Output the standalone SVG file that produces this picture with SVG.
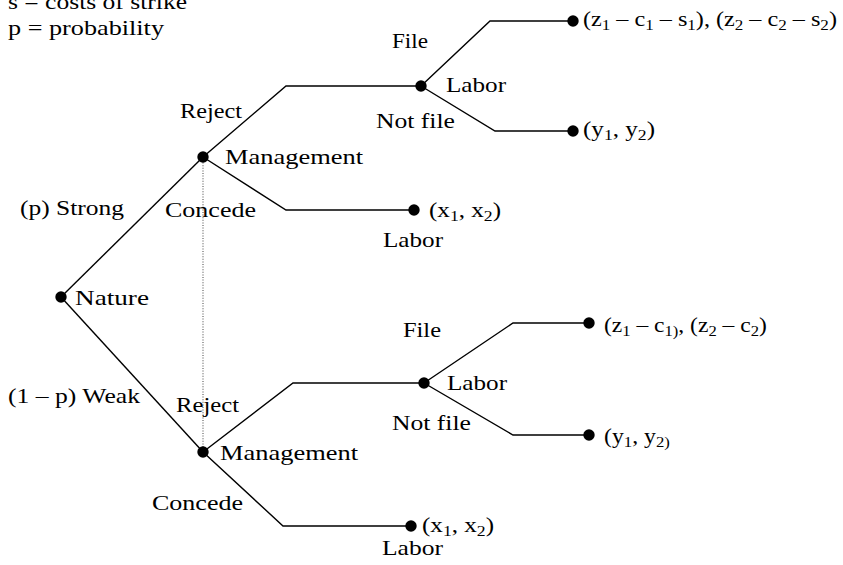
<svg xmlns="http://www.w3.org/2000/svg" width="843" height="565" viewBox="0 0 843 565">
<style>
text{font-family:'Liberation Serif','Times New Roman',serif;font-size:22px;fill:#000}
.sub{font-size:15.5px}
.e{fill:none;stroke:#000;stroke-width:1.4;stroke-linejoin:miter}
.dot{fill:#000}
.info{fill:none;stroke:#555;stroke-width:1.1;stroke-dasharray:1 1.6}
</style>
<rect width="843" height="565" fill="#fff"/>
<g id="legend">
<text x="8" y="9" textLength="179" lengthAdjust="spacingAndGlyphs">s = costs of strike</text>
<text x="8" y="35" textLength="156" lengthAdjust="spacingAndGlyphs">p = probability</text>
</g>
<g id="connectors">
<line class="e" x1="61" y1="297" x2="203" y2="157"/>
<line class="e" x1="61" y1="297" x2="203" y2="452"/>
<polyline class="e" points="203,157 286,86 421,86"/>
<polyline class="e" points="421,86 490,21 573,21"/>
<polyline class="e" points="421,86 495,131 573,131"/>
<polyline class="e" points="203,157 286,210 414,210"/>
<polyline class="e" points="203,452 293,383 424,383"/>
<polyline class="e" points="424,383 513,323 589,323"/>
<polyline class="e" points="424,383 513,435 589,435"/>
<polyline class="e" points="203,452 283,526 411,526"/>
<line class="info" x1="203" y1="160" x2="203" y2="449"/>
<text x="20" y="215" textLength="104" lengthAdjust="spacingAndGlyphs">(p) Strong</text>
<text x="8" y="403" textLength="132" lengthAdjust="spacingAndGlyphs">(1 – p) Weak</text>
<text x="180" y="118" textLength="62" lengthAdjust="spacingAndGlyphs">Reject</text>
<text x="165" y="217" textLength="91" lengthAdjust="spacingAndGlyphs">Concede</text>
<text x="392" y="48" textLength="36" lengthAdjust="spacingAndGlyphs">File</text>
<text x="376" y="128" textLength="79" lengthAdjust="spacingAndGlyphs">Not file</text>
<text x="176" y="412" textLength="63" lengthAdjust="spacingAndGlyphs">Reject</text>
<text x="152" y="510" textLength="91" lengthAdjust="spacingAndGlyphs">Concede</text>
<text x="403" y="337" textLength="38" lengthAdjust="spacingAndGlyphs">File</text>
<text x="392" y="430" textLength="79" lengthAdjust="spacingAndGlyphs">Not file</text>
</g>
<g id="nature">
<circle class="dot" cx="61" cy="297" r="5.7"/>
<text x="75" y="305" textLength="74" lengthAdjust="spacingAndGlyphs">Nature</text>
</g>
<g id="management-strong">
<circle class="dot" cx="203" cy="157" r="5.7"/>
<text x="225" y="164" textLength="138" lengthAdjust="spacingAndGlyphs">Management</text>
</g>
<g id="management-weak">
<circle class="dot" cx="203" cy="452" r="5.7"/>
<text x="220" y="460" textLength="138" lengthAdjust="spacingAndGlyphs">Management</text>
</g>
<g id="labor-strong">
<circle class="dot" cx="421" cy="86" r="5.7"/>
<text x="446" y="92" textLength="60" lengthAdjust="spacingAndGlyphs">Labor</text>
</g>
<g id="labor-weak">
<circle class="dot" cx="424" cy="383" r="5.7"/>
<text x="447" y="390" textLength="60" lengthAdjust="spacingAndGlyphs">Labor</text>
</g>
<g id="end-strong-file">
<circle class="dot" cx="573" cy="21" r="5.7"/>
<text transform="translate(583,26) scale(1.1,1)">(z<tspan class="sub" dy="4">1</tspan><tspan dy="-4"> – c</tspan><tspan class="sub" dy="4">1</tspan><tspan dy="-4"> – s</tspan><tspan class="sub" dy="4">1</tspan><tspan dy="-4">), (z</tspan><tspan class="sub" dy="4">2</tspan><tspan dy="-4"> – c</tspan><tspan class="sub" dy="4">2</tspan><tspan dy="-4"> – s</tspan><tspan class="sub" dy="4">2</tspan><tspan dy="-4">)</tspan></text>
</g>
<g id="end-strong-notfile">
<circle class="dot" cx="573" cy="131" r="5.7"/>
<text transform="translate(583,136) scale(1.14,1)">(y<tspan class="sub" dy="4">1</tspan><tspan dy="-4">, y</tspan><tspan class="sub" dy="4">2</tspan><tspan dy="-4">)</tspan></text>
</g>
<g id="end-strong-concede">
<circle class="dot" cx="414" cy="210" r="5.7"/>
<text transform="translate(429,217) scale(1.14,1)">(x<tspan class="sub" dy="4">1</tspan><tspan dy="-4">, x</tspan><tspan class="sub" dy="4">2</tspan><tspan dy="-4">)</tspan></text>
<text x="383" y="247" textLength="60" lengthAdjust="spacingAndGlyphs">Labor</text>
</g>
<g id="end-weak-file">
<circle class="dot" cx="589" cy="323" r="5.7"/>
<text transform="translate(604,332) scale(1.07,1)">(z<tspan class="sub" dy="4">1</tspan><tspan dy="-4"> – c</tspan><tspan class="sub" dy="4">1)</tspan><tspan dy="-4">, (z</tspan><tspan class="sub" dy="4">2</tspan><tspan dy="-4"> – c</tspan><tspan class="sub" dy="4">2</tspan><tspan dy="-4">)</tspan></text>
</g>
<g id="end-weak-notfile">
<circle class="dot" cx="589" cy="435" r="5.7"/>
<text transform="translate(604,443) scale(1.08,1)">(y<tspan class="sub" dy="4">1</tspan><tspan dy="-4">, y</tspan><tspan class="sub" dy="4">2)</tspan></text>
</g>
<g id="end-weak-concede">
<circle class="dot" cx="411" cy="526" r="5.7"/>
<text transform="translate(422,532) scale(1.14,1)">(x<tspan class="sub" dy="4">1</tspan><tspan dy="-4">, x</tspan><tspan class="sub" dy="4">2</tspan><tspan dy="-4">)</tspan></text>
<text x="382" y="555" textLength="61" lengthAdjust="spacingAndGlyphs">Labor</text>
</g>
</svg>
